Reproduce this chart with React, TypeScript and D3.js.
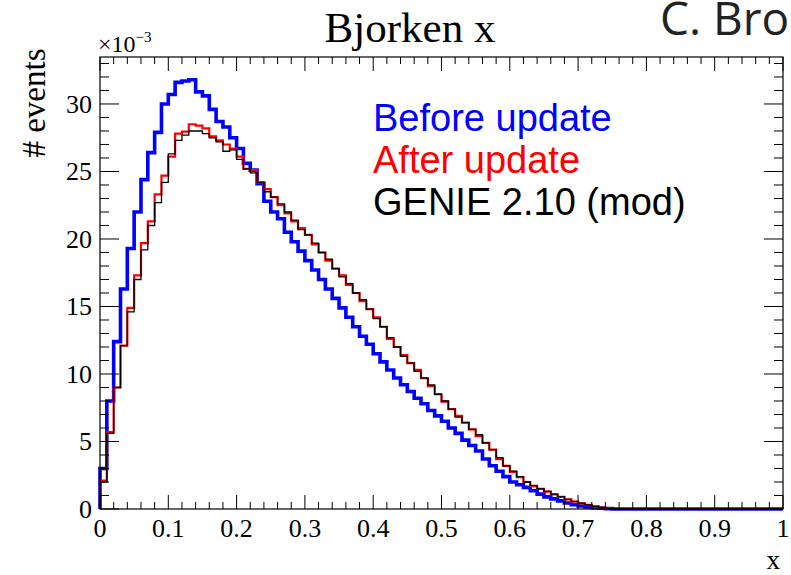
import React from "react";
import * as d3 from "d3";

const binEdges: number[] = d3.range(0, 101).map((i) => i / 100);

const beforeUpdate: number[] = [
  3.0, 8.0, 12.4, 16.3, 19.3, 22.0, 24.4, 26.4, 27.9, 30.0,
  30.7, 31.6, 31.7, 31.8, 30.9, 30.6, 29.6, 28.7, 28.3, 27.5,
  26.7, 25.6, 25.1, 24.1, 22.8, 22.0, 21.5, 20.5, 19.8, 19.1,
  18.4, 17.7, 17.0, 16.3, 15.6, 14.9, 14.2, 13.5, 12.8, 12.2,
  11.5, 10.9, 10.3, 9.7, 9.2, 8.7, 8.2, 7.8, 7.3, 6.9,
  6.5, 6.0, 5.6, 5.1, 4.7, 4.3, 3.7, 3.2, 2.8, 2.4,
  2.0, 1.8, 1.6, 1.35, 1.1, 0.9, 0.75, 0.6, 0.45, 0.32,
  0.22, 0.15, 0.1, 0.06, 0.03, 0, 0, 0, 0, 0,
  0, 0, 0, 0, 0, 0, 0, 0, 0, 0,
  0, 0, 0, 0, 0, 0, 0, 0, 0, 0,
];

const afterUpdate: number[] = [
  2.1, 5.7, 9.0, 12.1, 14.9, 17.3, 19.7, 21.3, 23.3, 24.7,
  26.1, 27.8, 27.95, 28.5, 28.4, 28.2, 27.6, 27.3, 27.0, 26.7,
  26.1, 25.2, 25.1, 24.2, 23.7, 23.1, 22.5, 21.9, 21.3, 20.8,
  20.3, 19.6, 19.0, 18.4, 17.8, 17.3, 16.6, 16.0, 15.4, 14.8,
  14.2, 13.5, 12.6, 12.0, 11.4, 10.8, 10.3, 9.7, 9.1, 8.5,
  7.95, 7.4, 6.9, 6.4, 5.9, 5.4, 4.9, 4.4, 3.7, 3.2,
  2.75, 2.35, 2.0, 1.7, 1.5, 1.28, 1.08, 0.9, 0.72, 0.55,
  0.42, 0.3, 0.2, 0.11, 0.05, 0, 0, 0, 0, 0,
  0, 0, 0, 0, 0, 0, 0, 0, 0, 0,
  0, 0, 0, 0, 0, 0, 0, 0, 0, 0,
];

const genie210: number[] = [
  2.0, 5.6, 9.0, 12.1, 14.6, 17.0, 19.2, 21.0, 22.7, 24.2,
  26.3, 27.3, 27.7, 28.0, 28.0, 27.8, 27.5, 27.2, 26.5, 26.6,
  25.9, 25.2, 24.9, 24.2, 23.5, 23.1, 22.6, 22.0, 21.4, 20.7,
  20.3, 19.7, 19.0, 18.5, 17.8, 17.2, 16.7, 16.0, 15.5, 14.8,
  14.1, 13.5, 12.7, 12.0, 11.3, 10.8, 10.2, 9.7, 9.2, 8.5,
  8.0, 7.4, 6.8, 6.4, 5.9, 5.5, 4.9, 4.4, 3.8, 3.2,
  2.8, 2.4, 2.0, 1.75, 1.5, 1.3, 1.1, 0.92, 0.72, 0.56,
  0.43, 0.3, 0.2, 0.12, 0.05, 0, 0, 0, 0, 0,
  0, 0, 0, 0, 0, 0, 0, 0, 0, 0,
  0, 0, 0, 0, 0, 0, 0, 0, 0, 0,
];

const xTickValues: number[] = [0, 0.1, 0.2, 0.3, 0.4, 0.5, 0.6, 0.7, 0.8, 0.9, 1];
const xTickLabels: string[] = ["0", "0.1", "0.2", "0.3", "0.4", "0.5", "0.6", "0.7", "0.8", "0.9", "1"];
const yTickValues: number[] = [0, 5, 10, 15, 20, 25, 30];
const yTickLabels: string[] = ["0", "5", "10", "15", "20", "25", "30"];

const legendLabels: string[] = ["Before update", "After update", "GENIE 2.10 (mod)"];
const legendColors: string[] = ["#0000ff", "#ff0000", "#000000"];

const W = 791;
const H = 575;
const L = 100, R = 783, T = 57, B = 509;

export default function App() {
  const x = d3.scaleLinear().domain([0, 1]).range([L, R]);
  const y = d3.scaleLinear().domain([0, 33.48]).range([B, T]);

  const stepPath = (vals: number[]) => {
    const pts: [number, number][] = [[0, 0]];
    vals.forEach((v, i) => pts.push([binEdges[i], v]));
    pts.push([binEdges[100], vals[99]]);
    const line = d3
      .line<[number, number]>()
      .x((d) => x(d[0]))
      .y((d) => y(d[1]))
      .curve(d3.curveStepAfter);
    return line(pts) || "";
  };

  const xMinor = d3.range(0, 51).map((i) => i / 50);
  const yMinor = d3.range(0, 34);
  const serif = "'Liberation Serif', 'DejaVu Serif', serif";
  const sans = "'Liberation Sans', Arial, sans-serif";

  const series = [
    { vals: beforeUpdate, color: legendColors[0], w: 3.6 },
    { vals: afterUpdate, color: legendColors[1], w: 2.2 },
    { vals: genie210, color: legendColors[2], w: 1.3 },
  ];

  return (
    <svg width={W} height={H} style={{ position: "absolute", left: 0, top: 0, background: "#fff" }}>
      <rect x={0} y={0} width={W} height={H} fill="#fff" />
      {series.map((s, i) => (
        <path key={i} d={stepPath(s.vals)} fill="none" stroke={s.color} strokeWidth={s.w} strokeLinejoin="miter" />
      ))}
      <rect x={L} y={T} width={R - L} height={B - T} fill="none" stroke="#000" strokeWidth={1.2} />
      {xMinor.map((v, i) => {
        const major = i % 5 === 0;
        const len = major ? 14 : 7;
        return (
          <g key={"xt" + i}>
            <line x1={x(v)} x2={x(v)} y1={B} y2={B - len} stroke="#000" strokeWidth={1} />
            <line x1={x(v)} x2={x(v)} y1={T} y2={T + len} stroke="#000" strokeWidth={1} />
          </g>
        );
      })}
      {yMinor.map((v, i) => {
        const major = v % 5 === 0;
        const len = major ? 19 : 9;
        return (
          <g key={"yt" + i}>
            <line x1={L} x2={L + len} y1={y(v)} y2={y(v)} stroke="#000" strokeWidth={1} />
            <line x1={R} x2={R - len} y1={y(v)} y2={y(v)} stroke="#000" strokeWidth={1} />
          </g>
        );
      })}
      {xTickValues.map((v, i) => (
        <text key={"xl" + i} x={x(v)} y={537} textAnchor="middle" fontFamily={serif} fontSize={26} fill="#000">
          {xTickLabels[i]}
        </text>
      ))}
      {yTickValues.map((v, i) => (
        <text key={"yl" + i} x={92} y={y(v) + 9} textAnchor="end" fontFamily={serif} fontSize={26} fill="#000">
          {yTickLabels[i]}
        </text>
      ))}
      <text x={98} y={52} fontFamily={serif} fontSize={24} fill="#000">
        ×10
        <tspan dy={-10} fontSize={15}>−3</tspan>
      </text>
      <text x={780} y={569} textAnchor="end" fontFamily={serif} fontSize={27} fill="#000">x</text>
      <text transform="translate(45,103) rotate(-90)" textAnchor="middle" fontFamily={serif} fontSize={33} fill="#000">
        # events
      </text>
      <text x={410} y={42} textAnchor="middle" fontFamily={serif} fontSize={43} fill="#000">Bjorken x</text>
      {legendLabels.map((t, i) => (
        <text key={"lg" + i} x={373} y={131 + i * 42} fontFamily={sans} fontSize={38} fill={legendColors[i]}>
          {t}
        </text>
      ))}
      <text x={660} y={35} fontFamily="'Open Sans', sans-serif" fontSize={46} fill="#222">C. Bronner</text>
    </svg>
  );
}
